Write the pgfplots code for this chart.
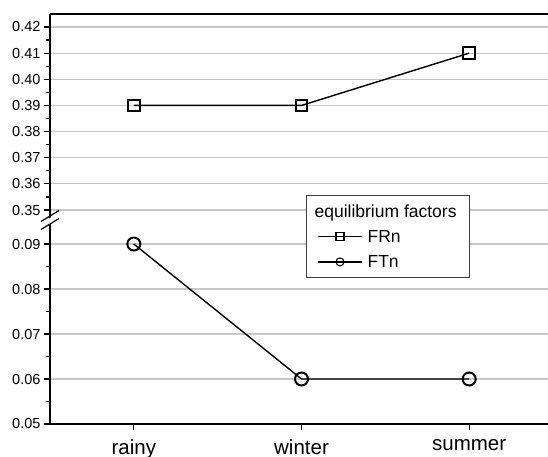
\documentclass[border=0pt]{standalone}
\usepackage{fontspec}
\setmainfont{Liberation Sans}
\usepackage{pgfplots}
\pgfplotsset{compat=1.18}
\begin{document}
\begin{tikzpicture}[x=1pt,y=1pt]
\pgfplotsset{
  common/.style={
    scale only axis, width=498pt, height=205pt,
    xmin=-0.5, xmax=2.47,
    axis y line*=left,
    tick align=outside,
    major tick length=6pt, minor tick length=3.5pt,
    every tick/.style={black, line width=1.2pt},
    axis line style={line width=1.4pt, black},
    ymajorgrids, major grid style={color=black!22, line width=1.2pt},
    minor y tick num=1,
    scaled y ticks=false,
    /pgf/number format/assume math mode=true,
    yticklabel style={font=\fontsize{14.5}{16}\selectfont,
      /pgf/number format/fixed, /pgf/number format/fixed zerofill,
      /pgf/number format/precision=2},
    xticklabel style={font=\fontsize{20.5}{23}\selectfont, yshift=-6pt},
    clip=false,
  },
  sq/.style={black, line width=1.4pt, mark=square, mark size=5.8pt,
    mark options={fill=white, line width=2pt}},
  ci/.style={black, line width=1.4pt, mark=o, mark size=6.5pt,
    mark options={fill=white, line width=2pt}},
}
% lower axis
\begin{axis}[common, at={(50pt,32pt)}, anchor=south west,
  axis x line*=bottom,
  ymin=0.05, ymax=0.09556,
  ytick={0.05,0.06,0.07,0.08,0.09},
  xtick={0,1,2}, xticklabels={rainy,winter,summer},
  x tick style={line width=1pt},
  minor x tick num=0,
]
\addplot[ci] coordinates {(0,0.09) (1,0.06) (2,0.06)};
\end{axis}
% upper axis
\begin{axis}[common, at={(50pt,237pt)}, anchor=south west,
  axis x line*=top,
  xtick=\empty,
  ymin=0.34656, ymax=0.42497,
  ytick={0.35,0.36,0.37,0.38,0.39,0.40,0.41,0.42},
  legend style={at={(0.514,0.117)}, anchor=north west,
    draw=black!75, line width=0.8pt, fill=white,
    font=\fontsize{17.5}{20}\selectfont,
    inner xsep=11pt, inner ysep=7pt, row sep=7.5pt, column sep=3pt},
  legend cell align=left,
  legend image code/.code={%
    \draw[#1, mark size=4pt, mark options={line width=1.1pt}, line width=1.2pt]
      plot[mark repeat=2, mark phase=2] coordinates {(0pt,0pt) (22pt,0pt) (44pt,0pt)};},
]
\addlegendimage{empty legend}
\addlegendentry{\hspace{-53pt}equilibrium factors}
\addplot[sq] coordinates {(0,0.39) (1,0.39) (2,0.41)};
\addlegendentry{FRn}
\addlegendimage{ci}
\addlegendentry{FTn}
\end{axis}
% axis break marks
\fill[white] (43,233.5) -- (57,242.5) -- (57,236.5) -- (43,227.5) -- cycle;
\draw[line width=1.2pt] (41,234.5) -- (59,245.5);
\draw[line width=1.2pt] (41,226.5) -- (59,237.5);
\pgfresetboundingbox
\path[use as bounding box] (0,0) rectangle (548,456);
\end{tikzpicture}
\end{document}
